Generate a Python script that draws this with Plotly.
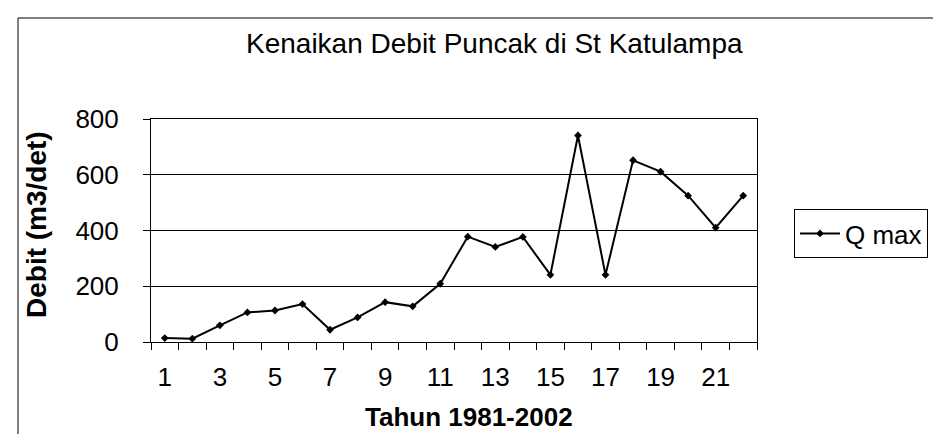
import plotly.graph_objects as go

# ---- data ----
tahun_idx = list(range(1, 23))          # 1..22 -> 1981..2002
q_max = [14, 12, 60, 106, 113, 136, 44, 88, 143, 128, 209,
         378, 341, 377, 241, 741, 241, 652, 611, 525, 410, 525]
x_tick_vals = [1, 3, 5, 7, 9, 11, 13, 15, 17, 19, 21]
x_tick_text = [str(v) for v in x_tick_vals]
y_tick_vals = [0, 200, 400, 600, 800]

series_name = "Q max"
title_text = "Kenaikan Debit Puncak di St Katulampa"
x_title = "Tahun 1981-2002"
y_title = "Debit (m3/det)"

# ---- layout geometry (pixels) ----
W, H = 941, 434
L, R, T, B = 143, 749, 111, 334
pw, ph = R - L, B - T


def px(xp):
    return (xp - L) / pw


def py(yp):
    return (B - yp) / ph


FONT = "Liberation Sans, Arial, sans-serif"

fig = go.Figure()
fig.add_trace(go.Scatter(
    x=tahun_idx, y=q_max, name=series_name,
    mode="lines+markers",
    line=dict(color="black", width=2),
    marker=dict(symbol="diamond", size=6, color="black"),
))

fig.update_layout(
    width=W, height=H,
    margin=dict(l=L, r=W - R, t=T, b=H - B, pad=0, autoexpand=False),
    paper_bgcolor="white", plot_bgcolor="white",
    font=dict(family=FONT, color="black", size=26),
    showlegend=True,
    legend=dict(
        x=px(786), y=py(201), xanchor="left", yanchor="top",
        bordercolor="black", borderwidth=1,
        font=dict(size=26, family=FONT, color="black"),
        bgcolor="white", itemwidth=40,
    ),
    xaxis=dict(
        range=[0.5, 22.5], automargin=False,
        tickmode="array", tickvals=x_tick_vals, ticktext=x_tick_text,
        ticks="", showgrid=False, zeroline=False,
        showline=True, linecolor="black", linewidth=1, mirror=True,
        tickfont=dict(size=26, family=FONT),
        ticklabelstandoff=12,
        minor=dict(ticks="outside", tick0=0.5, dtick=1, ticklen=7,
                   tickcolor="black", tickwidth=1, showgrid=False),
    ),
    yaxis=dict(
        range=[0, 800], automargin=False,
        tickmode="array", tickvals=y_tick_vals,
        ticks="outside", ticklen=7, tickcolor="black", tickwidth=1,
        showgrid=True, gridcolor="black", gridwidth=1,
        zeroline=False,
        showline=True, linecolor="black", linewidth=1, mirror=True,
        tickfont=dict(size=26, family=FONT),
        ticklabelstandoff=19,
    ),
    shapes=[
        dict(type="rect", xref="paper", yref="paper",
             x0=px(10), x1=px(960), y0=py(10), y1=py(460),
             line=dict(color="black", width=1), layer="below"),
    ],
    annotations=[
        dict(text=title_text, xref="paper", yref="paper",
             x=px(486), y=py(36), xanchor="center", yanchor="middle",
             showarrow=False, font=dict(size=28, family=FONT)),
        dict(text="<b>" + x_title + "</b>", xref="paper", yref="paper",
             x=px(461), y=py(409), xanchor="center", yanchor="middle",
             showarrow=False, font=dict(size=26, family=FONT)),
        dict(text="<b>" + y_title + "</b>", xref="paper", yref="paper",
             x=px(28), y=py(217), xanchor="center", yanchor="middle",
             textangle=-90, showarrow=False, font=dict(size=28, family=FONT)),
    ],
)

fig.write_html("out.html")
